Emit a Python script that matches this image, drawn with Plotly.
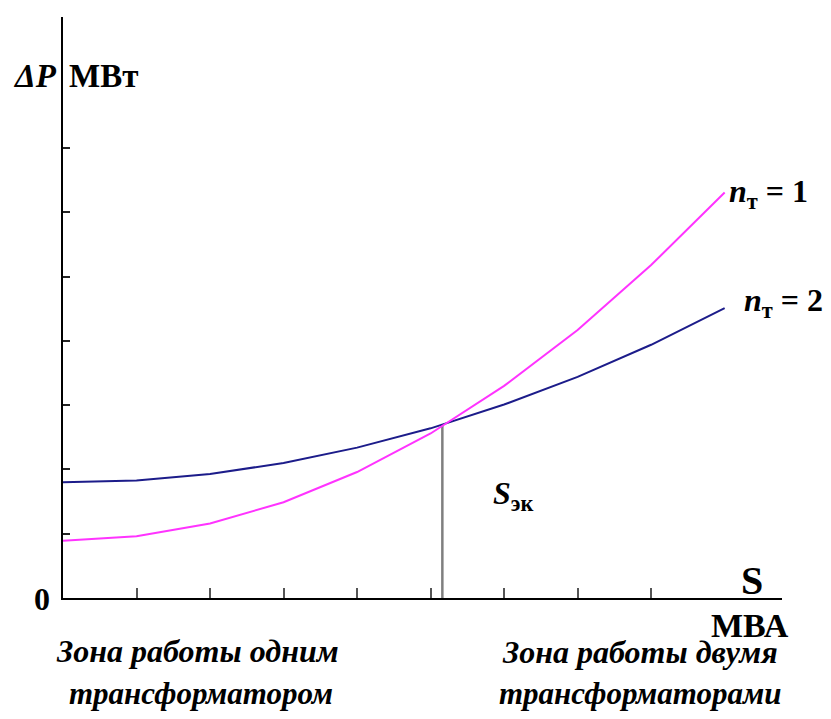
import plotly.graph_objects as go

# Load S (in tick units) and losses ΔP (in tick units)
S = [0, 1, 2, 3, 4, 5, 6, 7, 8, 9]
dP_n1 = [0.89, 0.96, 1.16, 1.49, 1.96, 2.56, 3.30, 4.17, 5.18, 6.31]
dP_n2 = [1.80, 1.83, 1.93, 2.10, 2.34, 2.64, 3.01, 3.44, 3.94, 4.51]
S_ek = 5.16
dP_ek = 2.69
x_ticks = [1, 2, 3, 4, 5, 6, 7, 8]
y_ticks = [1, 2, 3, 4, 5, 6, 7]

FONT = "Liberation Serif"
OFF = 8  # page body margin
W, H = 831 - 2 * OFF, 719 - 2 * OFF
# plot area in page pixels: left 63, right 782, top 17, bottom 598
L, T = 63 - OFF, 17 - OFF
R = W - (782 - OFF)
B = H - (598 - OFF)
PW, PH = W - L - R, H - T - B


def px(x):
    return (x - OFF - L) / PW


def py(y):
    return (H - B - (y - OFF)) / PH


fig = go.Figure()
fig.add_trace(go.Scatter(x=[S_ek, S_ek], y=[0, dP_ek], mode="lines",
                         line=dict(color="#7f7f7f", width=2.5), showlegend=False))
fig.add_trace(go.Scatter(x=S, y=dP_n2, mode="lines",
                         line=dict(color="#1c1c8a", width=2), showlegend=False))
fig.add_trace(go.Scatter(x=S, y=dP_n1, mode="lines",
                         line=dict(color="#ff33ff", width=2), showlegend=False))

fig.update_layout(
    width=W, height=H,
    margin=dict(l=L, r=R, t=T, b=B),
    paper_bgcolor="white", plot_bgcolor="white",
    showlegend=False,
    xaxis=dict(range=[0, 9.78], showline=True, linecolor="black", linewidth=2,
               ticks="inside", tickvals=x_ticks, ticklen=10, tickwidth=2,
               tickcolor="#555555", showticklabels=False, showgrid=False,
               zeroline=False, fixedrange=True),
    yaxis=dict(range=[0, 9.04], showline=True, linecolor="black", linewidth=2,
               ticks="inside", tickvals=y_ticks, ticklen=7, tickwidth=2,
               tickcolor="#222222", showticklabels=False, showgrid=False,
               zeroline=False, fixedrange=True),
)


def ann(text, x, y, size, xanchor="center"):
    fig.add_annotation(text=text, x=px(x), y=py(y), xref="paper", yref="paper",
                       showarrow=False, xanchor=xanchor, yanchor="middle",
                       borderpad=0,
                       font=dict(family=FONT, size=size, color="black"))


ann("<b><i>ΔP</i></b>", 58, 76, 33, "right")
ann("<b>МВт</b>", 68, 76, 33, "left")
ann("<b>0</b>", 42, 599, 32)
ann("<b>S</b>", 752, 580, 40)
ann("<b>МВА</b>", 750, 625, 34)
ann("<b><i>n</i><sub>т</sub> = 1</b>", 728, 193, 32, "left")
ann("<b><i>n</i><sub>т</sub> = 2</b>", 743, 302, 32, "left")
ann("<b><i>S</i><sub>эк</sub></b>", 513, 495, 32)
ann("<b><i>Зона работы одним</i></b>", 197, 651, 32)
ann("<b><i>трансформатором</i></b>", 201, 693, 31)
ann("<b><i>Зона работы двумя</i></b>", 640, 652, 32)
ann("<b><i>трансформаторами</i></b>", 640, 693, 31)

fig.write_html("out.html")
